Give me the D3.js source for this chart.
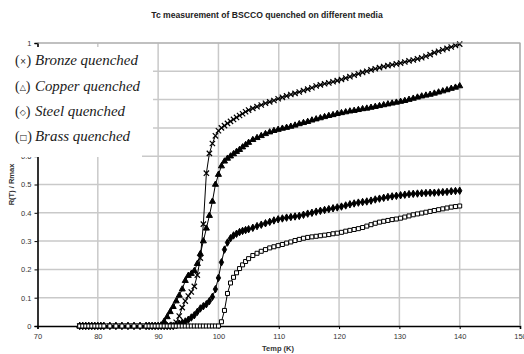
<!DOCTYPE html>
<html>
<head>
<meta charset="utf-8">
<script src="https://cdnjs.cloudflare.com/ajax/libs/d3/7.8.5/d3.min.js"></script>
<style>
  body { margin: 0; background: #fff; }
  svg text { font-family: "Liberation Sans", Arial, sans-serif; }
</style>
</head>
<body>
<div id="chart"></div>
<script>

// temperatures (K), shared by all four runs
var temps = [77, 77.5, 78, 78.5, 79, 79.5, 80, 80.5, 81, 82, 83, 84, 85, 86, 87, 88, 88.5, 89, 89.5, 90,
  90.5, 91, 91.5, 92, 92.5, 93, 93.5, 94, 94.5, 95, 95.5, 96, 96.5, 97, 97.5, 98, 98.5, 99, 99.5, 100,
  100.5, 101, 101.5, 102, 102.5, 103, 103.5, 104, 104.5, 105,
  105.7, 106.4, 107.1, 107.8, 108.5, 109.2, 109.9, 110.6, 111.3, 112, 112.7, 113.4, 114.1, 114.8, 115.5,
  116.2, 116.9, 117.6, 118.3, 119, 119.7, 120.4, 121.1, 121.8, 122.5, 123.2, 123.9, 124.6, 125.3, 126,
  126.7, 127.4, 128.1, 128.8, 129.5, 130.2, 130.9, 131.6, 132.3, 133, 133.7, 134.4, 135.1, 135.8, 136.5,
  137.2, 137.9, 138.6, 139.3, 140];

var zeros20 = [0,0,0,0,0,0,0,0,0,0, 0,0,0,0,0,0,0,0,0,0];

var bronze = zeros20.concat([
  0, 0, 0, 0, 0.005, 0.013, 0.035, 0.065, 0.088, 0.106, 0.12, 0.14, 0.18, 0.24, 0.36, 0.54, 0.61, 0.645, 0.672, 0.69,
  0.70, 0.708, 0.716, 0.723, 0.73, 0.737, 0.744, 0.75, 0.757, 0.763,
  0.769, 0.775, 0.781, 0.787, 0.792, 0.797, 0.803, 0.808, 0.813, 0.818, 0.822, 0.827, 0.832, 0.837, 0.842,
  0.848, 0.852, 0.856, 0.859, 0.863, 0.867, 0.871, 0.876, 0.881, 0.886, 0.891, 0.896, 0.9, 0.905, 0.909,
  0.913, 0.917, 0.92, 0.923, 0.926, 0.929, 0.933, 0.937, 0.94, 0.944, 0.948, 0.953, 0.959, 0.966, 0.971,
  0.976, 0.981, 0.986, 0.991, 0.996]);

var copper = zeros20.concat([
  0.003, 0.016, 0.032, 0.05, 0.068, 0.088, 0.108, 0.13, 0.16, 0.178, 0.185, 0.195, 0.22, 0.255, 0.30, 0.345, 0.39, 0.44, 0.50, 0.535,
  0.565, 0.582, 0.592, 0.60, 0.608, 0.616, 0.623, 0.632, 0.64, 0.648,
  0.658, 0.665, 0.672, 0.679, 0.685, 0.69, 0.694, 0.698, 0.701, 0.705, 0.709, 0.714, 0.718, 0.722, 0.727,
  0.731, 0.735, 0.739, 0.743, 0.746, 0.75, 0.753, 0.756, 0.759, 0.761, 0.764, 0.767, 0.769, 0.772, 0.775,
  0.778, 0.781, 0.784, 0.787, 0.79, 0.793, 0.796, 0.80, 0.804, 0.808, 0.812, 0.815, 0.818, 0.822, 0.826,
  0.83, 0.834, 0.839, 0.843, 0.848]);

var steel = zeros20.concat([
  0, 0, 0, 0, 0, 0.003, 0.008, 0.012, 0.016, 0.022, 0.03, 0.038, 0.05, 0.062, 0.07, 0.077, 0.088, 0.103, 0.13, 0.17,
  0.225, 0.27, 0.295, 0.31, 0.32, 0.326, 0.332, 0.336, 0.339, 0.342,
  0.347, 0.353, 0.358, 0.363, 0.368, 0.373, 0.377, 0.38, 0.383, 0.385, 0.387, 0.389, 0.393, 0.397, 0.4,
  0.404, 0.407, 0.41, 0.413, 0.416, 0.419, 0.422, 0.426, 0.43, 0.433, 0.436, 0.438, 0.44, 0.443, 0.447,
  0.45, 0.453, 0.456, 0.458, 0.46, 0.462, 0.464, 0.466, 0.467, 0.468, 0.469, 0.47, 0.471, 0.471, 0.472,
  0.473, 0.474, 0.476, 0.477, 0.478]);

var brass = zeros20.concat([
  0, 0, 0, 0, 0, 0, 0, 0, 0, 0, 0, 0, 0, 0, 0, 0, 0, 0, 0, 0,
  0.015, 0.055, 0.115, 0.152, 0.172, 0.188, 0.203, 0.216, 0.228, 0.238,
  0.249, 0.257, 0.264, 0.27, 0.276, 0.28, 0.284, 0.288, 0.293, 0.297, 0.302, 0.306, 0.31, 0.313, 0.315,
  0.317, 0.319, 0.321, 0.323, 0.326, 0.328, 0.331, 0.335, 0.338, 0.341, 0.344, 0.348, 0.353, 0.358, 0.363,
  0.367, 0.37, 0.373, 0.376, 0.378, 0.381, 0.385, 0.389, 0.393, 0.396, 0.399, 0.402, 0.405, 0.408, 0.411,
  0.414, 0.417, 0.42, 0.422, 0.424]);

var xTicks = [70, 80, 90, 100, 110, 120, 130, 140, 150];
var yTicks = [0, 0.1, 0.2, 0.3, 0.4, 0.5, 0.6, 0.7, 0.8, 0.9, 1];

var seriesNames = ["Bronze quenched", "Copper quenched", "Steel quenched", "Brass quenched"];
var seriesSymbols = ["×", "△", "◇", "□"];

var titleText = "Tc measurement of BSCCO quenched on different media";
var xTitle = "Temp (K)";
var yTitle = "R(T) / Rmax";

///// svg /////
var W = 524, H = 354;
var margin = {top: 43, right: 4, bottom: 28, left: 37.5};

var svg = d3.select("#chart").append("svg")
  .attr("width", W)
  .attr("height", H);

var x = d3.scaleLinear().domain([70, 150]).range([margin.left, W - margin.right]);
var y = d3.scaleLinear().domain([0, 1]).range([H - margin.bottom, margin.top]);

// title
svg.append("text")
  .attr("x", 267).attr("y", 18)
  .attr("text-anchor", "middle")
  .style("font-size", "8.6px")
  .style("font-weight", "bold")
  .style("fill", "#222")
  .text(titleText);

// grid
svg.append("g").selectAll("line")
  .data(yTicks.slice(1))
  .enter().append("line")
  .attr("x1", x(70)).attr("x2", x(150))
  .attr("y1", function(d) { return y(d); })
  .attr("y2", function(d) { return y(d); })
  .attr("stroke", "#c9c9c9").attr("stroke-width", 1.5);

svg.append("g").selectAll("line")
  .data(xTicks.slice(1))
  .enter().append("line")
  .attr("y1", y(0)).attr("y2", y(1))
  .attr("x1", function(d) { return x(d); })
  .attr("x2", function(d) { return x(d); })
  .attr("stroke", "#c9c9c9").attr("stroke-width", 1.5);

// axes
var xAxis = svg.append("g")
  .attr("transform", "translate(0," + y(0) + ")")
  .call(d3.axisBottom(x).tickValues(xTicks).tickSize(3).tickFormat(d3.format("d")));
var yAxis = svg.append("g")
  .attr("transform", "translate(" + x(70) + ",0)")
  .call(d3.axisLeft(y).tickValues(yTicks).tickSize(3).tickFormat(function(d) { return d === 0 || d === 1 ? d : d3.format(".1f")(d); }));

[xAxis, yAxis].forEach(function(a) {
  a.select(".domain").attr("stroke", "#000").attr("stroke-width", 1.6);
  a.selectAll(".tick line").attr("stroke", "#000");
  a.selectAll(".tick text").style("font-size", "7.5px").style("fill", "#333").style("font-family", "Liberation Sans, Arial, sans-serif");
});
xAxis.selectAll(".tick text").attr("dy", "0.9em");

svg.append("text")
  .attr("x", 278).attr("y", 351)
  .attr("text-anchor", "middle")
  .style("font-size", "7.5px").style("font-weight", "bold").style("fill", "#333")
  .text(xTitle);

svg.append("text")
  .attr("transform", "translate(14," + y(0.5) + ") rotate(-90)")
  .attr("text-anchor", "middle")
  .style("font-size", "7.5px").style("font-weight", "bold").style("fill", "#333")
  .text(yTitle);

// series
var line = d3.line()
  .x(function(d) { return x(d.t); })
  .y(function(d) { return y(d.v); });

var series = [bronze, copper, steel, brass].map(function(vals, i) {
  return { name: seriesNames[i], idx: i, pts: temps.map(function(t, j) { return {t: t, v: vals[j]}; }) };
});

var gS = svg.append("g");
series.forEach(function(s) {
  gS.append("path")
    .datum(s.pts)
    .attr("fill", "none")
    .attr("stroke", "#000")
    .attr("stroke-width", 1)
    .attr("d", line);
});

var symTypes = [d3.symbolTimes, d3.symbolTriangle, d3.symbolDiamond, d3.symbolSquare];
var symSizes = [20, 16, 16, 16];

series.forEach(function(s) {
  var sym = d3.symbol().type(symTypes[s.idx]).size(symSizes[s.idx]);
  gS.append("g").selectAll("path")
    .data(s.pts)
    .enter().append("path")
    .attr("transform", function(d) { return "translate(" + x(d.t) + "," + y(d.v) + ")"; })
    .attr("d", sym)
    .attr("fill", s.idx === 3 ? "#fff" : (s.idx === 0 ? "none" : "#000"))
    .attr("stroke", "#000")
    .attr("stroke-width", s.idx === 0 ? 1.2 : 1);
});

// plot border top/right
svg.append("path")
  .attr("d", "M" + x(70) + "," + y(1) + "H" + x(150) + "V" + y(0))
  .attr("fill", "none").attr("stroke", "#aaa").attr("stroke-width", 1.2);

///// legend (pasted text box) /////
var lg = svg.append("g");
lg.append("rect").attr("x", 0).attr("y", 47).attr("width", 153).attr("height", 82).attr("fill", "#fff");
lg.append("rect").attr("x", 0).attr("y", 128).attr("width", 142).attr("height", 29).attr("fill", "#fff");

var rowY = [65, 91, 116, 141];
var nameWidths = [103, 105, 90, 95];
seriesNames.forEach(function(n, i) {
  var t = lg.append("text")
    .attr("x", 15).attr("y", rowY[i])
    .style("font-family", "Liberation Serif, serif")
    .style("font-size", "14px")
    .style("fill", "#222");
  t.append("tspan").text("(");
  t.append("tspan").style("font-size", "8px").style("font-family", "DejaVu Sans, sans-serif").attr("dy", -1).text(seriesSymbols[i]);
  t.append("tspan").attr("dy", 1).text(")");

  lg.append("text")
    .attr("x", 35).attr("y", rowY[i])
    .attr("textLength", nameWidths[i])
    .attr("lengthAdjust", "spacingAndGlyphs")
    .style("font-family", "Liberation Serif, serif")
    .style("font-style", "italic")
    .style("font-size", "15px")
    .style("fill", "#1a1a1a")
    .text(n);
});

</script>
</body>
</html>
